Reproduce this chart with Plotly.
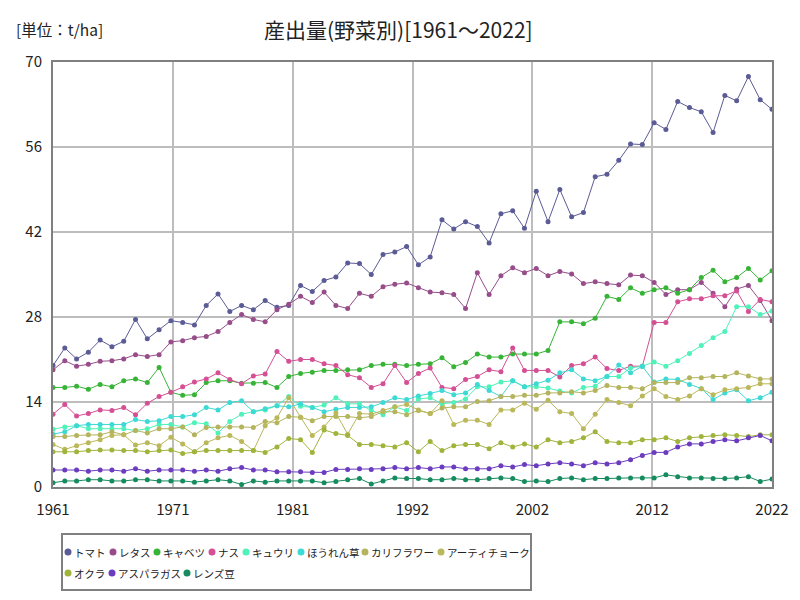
import plotly.graph_objects as go

years = list(range(1961, 2023))

tomato = [20.0, 22.9, 21.1, 22.2, 24.2, 23.1, 24.0, 27.6, 24.4, 25.9,
          27.4, 27.1, 26.7, 29.9, 31.8, 28.9, 29.9, 29.2, 30.7, 29.6,
          29.9, 33.2, 32.2, 34.0, 34.6, 36.9, 36.8, 35.0, 38.3, 38.7,
          39.6, 36.6, 37.9, 44.0, 42.5, 43.7, 42.9, 40.2, 45.0, 45.5,
          42.6, 48.7, 43.7, 49.0, 44.5, 45.2, 51.1, 51.5, 53.8, 56.5,
          56.4, 60.0, 58.9, 63.5, 62.5, 61.8, 58.4, 64.5, 63.6, 67.6,
          63.8, 62.2]
lettuce = [19.3, 20.8, 19.9, 20.2, 20.7, 20.8, 21.1, 21.8, 21.5, 21.8,
           23.9, 24.1, 24.6, 24.8, 25.6, 27.1, 28.4, 27.6, 27.2, 29.2,
           30.1, 31.4, 30.4, 32.1, 29.9, 29.4, 31.9, 31.4, 33.0, 33.4,
           33.6, 32.8, 32.1, 32.0, 31.7, 29.4, 35.3, 31.7, 34.8, 36.1,
           35.3, 36.0, 34.8, 35.5, 35.1, 33.5, 33.8, 33.5, 33.3, 34.9,
           34.8, 33.7, 31.7, 32.5, 32.5, 33.7, 31.9, 29.7, 32.6, 33.2,
           30.7, 27.4]
cabbage = [16.4, 16.4, 16.6, 16.1, 16.9, 16.5, 17.5, 17.8, 17.2, 19.7,
           15.6, 15.1, 15.2, 17.2, 17.5, 17.5, 17.1, 17.1, 17.2, 16.4,
           18.2, 18.7, 18.9, 19.2, 19.2, 19.3, 19.3, 20.0, 20.2, 20.2,
           20.0, 20.2, 20.3, 21.3, 19.8, 20.5, 21.9, 21.4, 21.4, 21.9,
           21.9, 21.9, 22.5, 27.2, 27.2, 26.9, 27.8, 31.4, 30.9, 32.8,
           31.9, 32.5, 32.8, 31.9, 32.5, 34.5, 35.7, 33.8, 34.5, 36.0,
           34.1, 35.6]
eggplant = [12.0, 13.6, 11.7, 12.1, 12.7, 12.6, 13.1, 11.9, 13.8, 14.9,
            15.6, 16.5, 17.3, 17.8, 18.8, 17.7, 17.0, 18.3, 18.6, 22.3,
            20.7, 21.0, 21.0, 20.3, 20.0, 18.5, 18.0, 16.4, 17.0, 20.0,
            17.2, 18.7, 19.6, 16.4, 16.2, 17.7, 18.2, 19.3, 19.0, 22.9,
            19.2, 19.2, 19.2, 18.1, 20.0, 20.3, 21.4, 19.5, 19.2, 19.9,
            19.9, 27.1, 27.1, 30.5, 31.0, 31.0, 31.5, 31.5, 32.3, 28.9,
            30.9, 30.5]
cucumber = [9.5, 9.9, 10.1, 9.6, 9.6, 9.6, 9.6, 9.3, 9.6, 10.3,
            10.3, 9.9, 10.6, 10.4, 8.9, 10.8, 12.0, 12.4, 12.7, 13.4,
            14.9, 13.3, 13.1, 13.5, 14.7, 13.7, 13.7, 12.6, 11.9, 13.2,
            12.6, 14.5, 14.7, 13.7, 13.9, 14.5, 16.5, 16.5, 17.3, 17.5,
            16.5, 16.5, 16.3, 15.8, 15.5, 16.4, 16.6, 18.2, 18.2, 19.6,
            19.9, 20.6, 19.9, 20.8, 22.0, 23.3, 24.6, 25.6, 29.7, 29.7,
            28.4, 29.0]
spinach = [8.7, 9.1, 10.1, 10.3, 10.3, 10.3, 10.3, 11.1, 10.8, 10.9,
           11.6, 11.6, 11.9, 13.1, 12.7, 13.9, 14.2, 12.4, 12.9, 13.4,
           13.2, 13.7, 13.1, 12.4, 12.8, 13.1, 13.1, 13.2, 13.9, 14.7,
           14.4, 15.0, 15.4, 15.9, 15.2, 15.5, 16.9, 15.9, 14.9, 17.5,
           16.5, 17.0, 17.6, 18.8, 19.3, 17.8, 17.5, 18.2, 20.1, 18.8,
           19.9, 17.3, 17.8, 17.7, 16.9, 16.2, 14.4, 15.5, 16.0, 14.2,
           14.7, 15.6]
cauliflower = [8.3, 8.3, 8.5, 8.6, 8.6, 9.1, 8.6, 9.3, 8.9, 9.6,
               9.6, 9.9, 8.6, 9.8, 9.9, 9.9, 9.9, 9.8, 10.8, 10.6,
               11.6, 11.5, 10.9, 11.6, 11.6, 11.6, 11.4, 11.6, 12.4, 12.4,
               11.9, 12.6, 12.1, 13.0, 13.2, 13.2, 14.1, 14.2, 14.9, 14.9,
               15.1, 15.1, 15.5, 15.5, 15.7, 15.5, 15.9, 16.7, 16.4, 16.4,
               16.2, 17.2, 17.2, 17.2, 18.0, 18.0, 18.2, 18.2, 18.8, 18.3,
               17.8, 17.8]
artichoke = [7.0, 6.2, 6.8, 7.3, 7.8, 8.5, 8.6, 6.9, 7.3, 6.8,
             8.2, 7.1, 5.8, 7.3, 8.1, 8.5, 7.5, 6.0, 10.1, 11.4,
             14.7, 11.5, 8.5, 9.9, 12.2, 8.7, 12.1, 12.0, 12.6, 13.2,
             13.6, 12.7, 12.1, 14.2, 10.3, 11.0, 11.0, 10.3, 12.7, 12.7,
             13.8, 12.8, 14.3, 12.4, 12.1, 9.6, 12.0, 14.4, 13.9, 13.4,
             15.0, 16.2, 14.9, 14.4, 15.0, 16.2, 15.2, 16.0, 16.2, 16.4,
             17.0, 17.0]
okra = [5.8, 5.8, 5.8, 6.0, 6.1, 6.1, 6.0, 6.0, 5.8, 6.0,
        6.1, 5.5, 5.8, 6.0, 6.0, 6.0, 6.0, 6.0, 5.7, 6.6,
        8.0, 7.8, 5.7, 9.4, 8.8, 8.5, 7.0, 7.0, 6.8, 6.6,
        7.3, 5.8, 7.5, 6.0, 6.8, 7.0, 7.0, 6.3, 7.3, 6.6,
        7.1, 6.6, 7.8, 7.3, 7.5, 8.1, 9.1, 7.5, 7.3, 7.3,
        7.8, 7.8, 8.1, 7.5, 8.1, 8.3, 8.5, 8.6, 8.5, 8.3,
        8.6, 8.6]
asparagus = [2.8, 2.8, 2.8, 2.6, 2.8, 2.8, 2.6, 3.0, 2.6, 2.8,
             2.8, 2.8, 2.6, 2.8, 2.6, 3.0, 3.2, 2.8, 2.8, 2.5,
             2.5, 2.5, 2.4, 2.4, 2.9, 2.9, 3.0, 2.9, 3.0, 3.2,
             3.0, 3.2, 3.0, 3.3, 3.3, 3.0, 3.0, 3.0, 3.5, 3.3,
             3.7, 3.5, 3.8, 4.0, 3.8, 3.5, 4.0, 3.8, 4.0, 4.5,
             5.2, 5.7, 5.7, 6.6, 7.1, 7.1, 7.5, 7.8, 7.6, 8.1,
             8.5, 7.6]
lentil = [0.7, 1.0, 1.0, 1.2, 1.2, 1.0, 1.0, 1.2, 1.2, 1.0,
          1.0, 1.0, 0.8, 1.0, 1.2, 1.0, 0.4, 1.0, 0.8, 1.0,
          1.0, 1.0, 1.0, 0.7, 0.9, 1.2, 1.4, 0.5, 1.0, 1.5,
          1.4, 1.4, 1.2, 1.2, 1.4, 1.2, 1.2, 1.4, 1.5, 1.4,
          0.9, 1.0, 0.9, 1.4, 1.5, 1.2, 1.4, 1.4, 1.5, 1.5,
          1.5, 1.5, 2.0, 1.7, 1.5, 1.5, 1.4, 1.4, 1.5, 1.7,
          0.9, 1.3]

series_names = ["トマト", "レタス", "キャベツ", "ナス", "キュウリ", "ほうれん草",
                "カリフラワー", "アーティチョーク", "オクラ", "アスパラガス", "レンズ豆"]
series_values = [tomato, lettuce, cabbage, eggplant, cucumber, spinach,
                 cauliflower, artichoke, okra, asparagus, lentil]
colors = ["#5b5b96", "#974d8a", "#37b437", "#d44f93", "#4ff2b8", "#3dd9d4",
          "#b4b45e", "#bab85a", "#a0b43c", "#6c3cbf", "#168c5e"]

x_tick_labels = ["1961", "1971", "1981", "1992", "2002", "2012", "2022"]
y_tick_values = [0, 14, 28, 42, 56, 70]

title_text = "産出量(野菜別)[1961～2022]"
unit_text = "[単位：t/ha]"

for v in series_values:
    assert len(v) == len(years)

FONT = "Noto Sans CJK JP"

fig = go.Figure()
for name, vals, col in zip(series_names, series_values, colors):
    fig.add_trace(go.Scatter(
        x=years, y=vals, name=name, mode="lines+markers",
        line=dict(color=col, width=1),
        marker=dict(color=col, size=5),
        showlegend=False,
    ))

# page offset from default body margin
OFF = 8
FIG_W, FIG_H = 800 - OFF, 600 - OFF
# plot area in page pixels
L, R, T, B = 53, 772, 62, 487
W, H = R - L, B - T

def px(xp):
    return (xp - L) / W

def py(yp):
    return (B - yp) / H

n = len(x_tick_labels) - 1
tick_vals = [years[0] + k * (years[-1] - years[0]) / n for k in range(n + 1)]

fig.update_layout(
    width=FIG_W, height=FIG_H,
    margin=dict(l=L - OFF, r=OFF + FIG_W - R, t=T - OFF, b=OFF + FIG_H - B),
    paper_bgcolor="white", plot_bgcolor="white",
    font=dict(family=FONT, size=14, color="#222"),
    xaxis=dict(range=[years[0], years[-1]], tickvals=tick_vals, ticktext=x_tick_labels,
               showgrid=True, gridcolor="#bdbdbd", gridwidth=1.5,
               showline=True, linecolor="#808080", linewidth=2, mirror=True,
               ticks="", tickfont=dict(size=15, family=FONT, color="#222"),
               zeroline=False, ticklabelstandoff=8),
    yaxis=dict(range=[0, 70], tickvals=y_tick_values,
               showgrid=True, gridcolor="#bdbdbd", gridwidth=1.5,
               showline=True, linecolor="#808080", linewidth=2, mirror=True,
               ticks="", tickfont=dict(size=15, family=FONT, color="#222"),
               zeroline=False, ticklabelstandoff=6),
    showlegend=False,
)

annotations = [
    dict(text=title_text, x=px(398), y=py(29), xref="paper", yref="paper",
         showarrow=False, xanchor="center", yanchor="middle",
         font=dict(size=21, family=FONT, color="#222")),
    dict(text=unit_text, x=px(14), y=py(29), xref="paper", yref="paper",
         showarrow=False, xanchor="left", yanchor="middle",
         font=dict(size=15.5, family=FONT, color="#222")),
]

shapes = [dict(type="rect", xref="paper", yref="paper",
               x0=px(62), x1=px(531), y0=py(590), y1=py(534),
               line=dict(color="#808080", width=2), fillcolor="rgba(0,0,0,0)")]

legend_dot_x = [68, 113, 157, 212, 246, 301, 365, 441, 68, 112, 187]
legend_row_y = [552, 552, 552, 552, 552, 552, 552, 552, 573, 573, 573]
for name, col, dx, dy in zip(series_names, colors, legend_dot_x, legend_row_y):
    shapes.append(dict(type="circle", xref="paper", yref="paper",
                       xsizemode="pixel", ysizemode="pixel",
                       xanchor=px(dx), yanchor=py(dy),
                       x0=-3.5, x1=3.5, y0=-3.5, y1=3.5,
                       fillcolor=col, line=dict(color=col, width=0)))
    annotations.append(dict(text=name, x=px(dx + 4), y=py(dy), xref="paper", yref="paper",
                            showarrow=False, xanchor="left", yanchor="middle",
                            font=dict(size=10.5, family=FONT, color="#222")))

fig.update_layout(annotations=annotations, shapes=shapes)
fig.write_html("out.html")
